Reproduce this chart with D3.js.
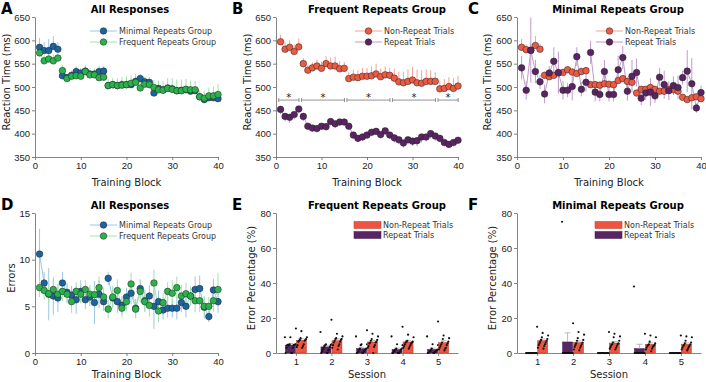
<!DOCTYPE html>
<html>
<head>
<meta charset="utf-8">
<script src="https://cdn.jsdelivr.net/npm/d3@7"></script>
<style>
  body { margin: 0; background: #fff; }
  svg { display: block; font-family: "DejaVu Sans", Verdana, sans-serif; }
</style>
</head>
<body>
<div id="svganchor"></div>
<script>
// ---------- data ----------
const blocks = d3.range(1, 41);
const sessions = [[1, 5], [6, 15], [16, 25], [26, 35], [36, 40]];
const sessionLabels = ["1", "2", "3", "4", "5"];
const rtTicks = [350, 400, 450, 500, 550, 600, 650];
const errTicks = [0, 5, 10, 15];
const pctTicks = [0, 20, 40, 60, 80];
const blockTicks = [0, 10, 20, 30, 40];

// A: all responses, reaction time (ms)
const aMinimal = [585, 578, 578, 587, 581, 524, 520, 525, 533, 530, 534, 528, 528, 533, 534, 503, 505, 503, 505, 505, 505, 512, 518, 511, 510, 487, 497, 494, 498, 496, 492, 493, 494, 491, 492, 479, 473, 477, 477, 475];
const aMinimalErr = [20, 18, 25, 22, 15, 10, 8, 10, 12, 10, 10, 8, 10, 12, 10, 8, 8, 10, 10, 10, 10, 12, 10, 10, 10, 12, 10, 10, 12, 10, 10, 10, 10, 10, 10, 10, 8, 8, 10, 10];
const aFrequent = [573, 556, 560, 556, 562, 535, 518, 523, 524, 523, 533, 526, 526, 520, 521, 503, 505, 503, 504, 505, 508, 510, 498, 506, 505, 499, 494, 493, 497, 495, 492, 492, 495, 494, 494, 479, 476, 481, 481, 484];
const aFrequentErr = [12, 12, 12, 14, 12, 12, 10, 10, 12, 12, 14, 14, 14, 16, 14, 14, 14, 16, 18, 18, 18, 18, 16, 16, 16, 16, 20, 20, 22, 24, 24, 24, 22, 20, 18, 14, 16, 18, 20, 22];

// B: frequent repeats group
const bNonRepeat = [597, 581, 585, 576, 586, 550, 536, 541, 545, 540, 550, 545, 545, 539, 540, 518, 521, 520, 523, 523, 524, 528, 522, 526, 525, 519, 511, 509, 512, 515, 509, 508, 512, 512, 512, 496, 497, 501, 497, 502];
const bNonRepeatErr = [15, 15, 15, 15, 18, 12, 12, 12, 14, 14, 16, 18, 20, 16, 14, 14, 16, 16, 18, 18, 20, 22, 18, 18, 16, 20, 22, 24, 26, 28, 28, 28, 26, 24, 20, 18, 20, 20, 22, 22];
const bRepeat = [452, 437, 435, 441, 453, 437, 416, 412, 411, 416, 415, 426, 421, 425, 425, 416, 397, 390, 393, 397, 403, 405, 398, 406, 397, 391, 387, 380, 387, 384, 385, 393, 393, 400, 395, 390, 381, 377, 381, 386];
const bRepeatErr = [10, 10, 12, 10, 10, 10, 8, 8, 8, 8, 8, 8, 8, 8, 8, 8, 8, 8, 8, 8, 8, 8, 8, 8, 8, 10, 10, 10, 10, 10, 12, 12, 10, 10, 10, 8, 8, 8, 8, 8];

// C: minimal repeats group
const cNonRepeat = [585, 580, 578, 589, 581, 525, 522, 525, 530, 531, 537, 532, 529, 533, 535, 505, 505, 504, 507, 506, 505, 514, 518, 512, 510, 487, 495, 495, 499, 495, 491, 491, 495, 494, 491, 478, 473, 477, 479, 475];
const cNonRepeatErr = [18, 12, 15, 20, 12, 8, 8, 8, 8, 8, 8, 8, 8, 8, 8, 6, 6, 6, 6, 6, 6, 6, 6, 6, 6, 6, 6, 6, 6, 6, 6, 6, 6, 6, 6, 6, 6, 6, 6, 6];
const cRepeat = [541, 493, 579, 533, 511, 485, 530, 555, 531, 493, 493, 501, 565, 495, 510, 574, 489, 484, 533, 484, 484, 537, 563, 491, 523, 531, 476, 487, 489, 481, 521, 505, 492, 503, 499, 520, 534, 507, 455, 488];
const cRepeatErr = [25, 20, 70, 25, 15, 20, 15, 30, 45, 20, 15, 30, 20, 15, 20, 25, 20, 15, 25, 15, 15, 30, 25, 20, 35, 30, 15, 15, 30, 15, 20, 30, 20, 20, 25, 15, 45, 55, 10, 15];

// D: all responses, errors
const dMinimal = [10.6, 7.5, 6.3, 6.1, 5.9, 7.5, 6.5, 6.2, 5.7, 6.6, 5.7, 6.0, 5.4, 6.3, 5.5, 8.0, 5.9, 5.5, 5.1, 6.0, 6.4, 4.8, 6.9, 5.6, 6.1, 5.0, 5.5, 4.6, 4.8, 4.8, 4.8, 5.4, 5.0, 6.1, 6.8, 6.9, 4.9, 3.9, 6.75, 5.5];
const dMinimalErr = [2.7, 1.2, 2.8, 2.0, 1.5, 1.2, 1.0, 1.0, 1.5, 1.2, 1.0, 1.0, 2.3, 1.5, 1.0, 0.7, 1.0, 1.2, 1.0, 1.0, 1.2, 1.0, 1.0, 1.2, 1.2, 2.4, 1.2, 1.0, 1.0, 1.0, 1.2, 1.0, 1.2, 1.0, 1.4, 1.4, 1.2, 0.6, 1.2, 1.2];
const dFrequent = [7.0, 6.7, 6.35, 6.8, 6.3, 6.6, 6.3, 5.5, 6.6, 6.3, 6.8, 6.3, 6.25, 7.0, 6.0, 4.7, 6.0, 6.7, 4.8, 5.5, 7.4, 4.7, 6.6, 5.5, 5.1, 7.5, 4.5, 5.4, 6.6, 6.4, 7.0, 6.1, 6.35, 6.1, 5.6, 5.6, 5.0, 5.0, 5.6, 6.8];
const dFrequentErr = [1.0, 1.0, 1.0, 1.0, 1.0, 1.0, 1.0, 1.2, 1.0, 1.0, 1.0, 1.0, 1.0, 1.2, 1.0, 1.0, 1.2, 1.2, 1.0, 1.0, 1.2, 1.0, 1.2, 1.0, 1.2, 1.4, 1.2, 1.0, 1.0, 1.4, 1.2, 1.2, 1.2, 1.0, 1.2, 1.2, 1.0, 1.0, 1.2, 1.8];

// E: frequent repeats group, error percentage per session
const eRepeat = [4.5, 3.5, 2.5, 2.0, 2.0];
const eRepeatErr = [0.9, 0.9, 0.8, 0.8, 0.8];
const eNonRepeat = [7.2, 7.0, 6.3, 6.3, 5.9];
const eNonRepeatErr = [0.9, 1.1, 0.9, 0.9, 1.1];
const eRepeatDots = [
  [9, 9, 5, 5, 5, 4.5, 4.5, 4.5, 4.5, 4.5, 3, 3, 0, 0, 0],
  [12, 5, 5, 4.5, 4.5, 4, 3.5, 3, 2, 2, 1.5, 1, 0, 0, 0],
  [9.5, 5, 5, 4.5, 2.5, 2.5, 2, 2, 1.5, 1, 1, 0, 0, 0, 0],
  [9.5, 5, 4.5, 2.5, 2.5, 2, 2, 1.5, 1, 1, 0, 0, 0, 0, 0],
  [9.5, 5, 4.5, 2.5, 2, 2, 1.5, 1, 1, 1, 0.5, 0, 0, 0, 0]
];
const eNonRepeatDots = [
  [14, 12.5, 9, 8.5, 8, 7.5, 7.5, 7, 7, 6.5, 5, 4.5, 4, 3.5, 3],
  [19, 11, 9.5, 8.5, 8, 8, 7.5, 7, 6.5, 6, 5, 4.5, 4, 3, 2],
  [13, 11, 9.5, 8, 7.5, 7, 6.5, 6, 6, 5.5, 4.5, 4, 3.5, 3, 0],
  [15, 10.5, 9, 7, 6.5, 6.5, 6, 6, 5.5, 5, 4.5, 4, 3.5, 3, 2.5],
  [18, 10, 8.5, 8, 6.5, 6, 5.5, 5, 4.5, 4, 3, 3, 2.5, 2, 1.5]
];

// F: minimal repeats group, error percentage per session
const fRepeat = [0, 6.3, 0, 2.5, 0];
const fRepeatErr = [0, 5.2, 0, 2.5, 0];
const fNonRepeat = [7.0, 6.0, 5.7, 5.0, 5.0];
const fNonRepeatErr = [1.0, 1.0, 0.9, 0.8, 0.8];
const fRepeatDots = [
  [0, 0, 0, 0, 0, 0, 0, 0, 0, 0, 0, 0, 0, 0, 0],
  [75, 0, 0, 0, 0, 0, 0, 0, 0, 0, 0, 0, 0, 0, 0],
  [0, 0, 0, 0, 0, 0, 0, 0, 0, 0, 0, 0, 0, 0, 0],
  [38, 0, 0, 0, 0, 0, 0, 0, 0, 0, 0, 0, 0, 0, 0],
  [0, 0, 0, 0, 0, 0, 0, 0, 0, 0, 0, 0, 0, 0, 0]
];
const fNonRepeatDots = [
  [15, 11.5, 10, 9, 8, 7.5, 7, 6.5, 6, 5.5, 5, 4.5, 4, 3, 2.5],
  [17, 12, 10.5, 8.5, 7.5, 7, 6, 5.5, 5, 4.5, 4, 3.5, 3, 2, 1.5],
  [12, 11, 9.5, 9, 7, 6, 5.5, 5, 5, 4.5, 4, 3.5, 3, 2.5, 2],
  [11, 10, 9, 6.5, 5.5, 5, 4.5, 4.5, 4, 4, 3.5, 3, 2.5, 2, 1],
  [10, 9.5, 9, 7, 6, 5.5, 5, 4.5, 4, 4, 3.5, 3, 2.5, 2, 1.5]
];

// ---------- styles ----------
const col = {
  blue: "#1c64a0", blueLight: "#9cc6e6",
  green: "#2bb34b", greenLight: "#a4e2ad",
  red: "#ec5a42", redLight: "#f4a396",
  purple: "#5a2463", purpleLight: "#bf9bca"
};

const svg = d3.select("#svganchor")
  .append("svg")
  .attr("width", 706)
  .attr("height", 382);

/*
------------------------------
METHOD: shared frame bits (axes, titles, letters)
------------------------------
*/
function frame(p, x, y, xAxis, yTicks) {
  const g = svg.append("g");
  g.append("g")
    .attr("transform", "translate(0," + p.y1 + ")")
    .call(xAxis.tickSize(3).tickSizeOuter(0).tickPadding(2));
  g.append("g")
    .attr("transform", "translate(" + p.x0 + ",0)")
    .call(d3.axisLeft(y).tickValues(yTicks).tickSize(3).tickSizeOuter(0).tickPadding(2));
  g.selectAll(".domain, .tick line").attr("stroke", "#666").attr("stroke-width", 0.8);
  g.selectAll(".tick text").attr("fill", "#222").style("font-size", "9.5px");

  svg.append("text")
    .attr("x", p.letterX).attr("y", p.y0 - 3)
    .style("font-size", "15px").style("font-weight", "bold")
    .text(p.letter);
  svg.append("text")
    .attr("x", p.titleX).attr("y", p.y0 - 4)
    .attr("text-anchor", "middle")
    .style("font-size", "10px").style("font-weight", "bold")
    .text(p.title);
  svg.append("text")
    .attr("x", (p.x0 + p.x1) / 2).attr("y", p.y1 + p.xLabelDy)
    .attr("text-anchor", "middle")
    .style("font-size", "10px").attr("fill", "#222")
    .text(p.xLabel);
  svg.append("text")
    .attr("transform", "translate(" + p.yLabelX + "," + ((p.y0 + p.y1) / 2 - 5) + ") rotate(-90)")
    .attr("text-anchor", "middle")
    .style("font-size", "10px").attr("fill", "#222")
    .text(p.yLabel);
  return g;
}

/*
------------------------------
METHOD: panels with 40 training blocks
------------------------------
*/
function linePanel(p) {
  const x = d3.scaleLinear().domain([0, 40]).range([p.x0, p.x1]);
  const y = d3.scaleLinear().domain(p.yDomain).range([p.y1, p.y0]);
  frame(p, x, y, d3.axisBottom(x).tickValues(blockTicks), p.yTicks);

  const line = d3.line()
    .x(function (d) { return x(d.b); })
    .y(function (d) { return y(d.v); });

  p.series.forEach(function (s) {
    const pts = blocks.map(function (b, i) { return { b: b, v: s.values[i], e: s.err[i] }; });
    svg.append("g").selectAll("line")
      .data(pts).enter().append("line")
      .attr("x1", function (d) { return x(d.b); })
      .attr("x2", function (d) { return x(d.b); })
      .attr("y1", function (d) { return y(s.dir === "up" ? d.v : d.v - d.e); })
      .attr("y2", function (d) { return y(s.dir === "down" ? d.v : d.v + d.e); })
      .attr("stroke", s.light).attr("stroke-width", 1);
    sessions.forEach(function (r) {
      svg.append("path")
        .attr("d", line(pts.filter(function (d) { return d.b >= r[0] && d.b <= r[1]; })))
        .attr("fill", "none").attr("stroke", s.light).attr("stroke-width", 1);
    });
  });
  p.series.forEach(function (s) {
    svg.append("g").selectAll("circle")
      .data(s.values).enter().append("circle")
      .attr("cx", function (d, i) { return x(blocks[i]); })
      .attr("cy", function (d) { return y(d); })
      .attr("r", 3.3)
      .attr("fill", s.color).attr("stroke", "#222").attr("stroke-width", 0.5);
  });

  // legend
  p.series.forEach(function (s, i) {
    const ly = p.legendY + i * 11;
    svg.append("line")
      .attr("x1", p.legendX).attr("x2", p.legendX + 27)
      .attr("y1", ly).attr("y2", ly)
      .attr("stroke", s.light).attr("stroke-width", 1);
    svg.append("circle")
      .attr("cx", p.legendX + 13.5).attr("cy", ly).attr("r", 3.3)
      .attr("fill", s.color).attr("stroke", "#222").attr("stroke-width", 0.5);
    svg.append("text")
      .attr("x", p.legendX + 29).attr("y", ly + 3)
      .style("font-size", "8px").attr("fill", "#333")
      .text(s.name);
  });

  // significance brackets between the two trial types
  if (p.brackets) {
    const by = y(p.brackets);
    sessions.forEach(function (r) {
      const xa = x(r[0] - 0.4), xb = x(r[1] + 0.05);
      svg.append("path")
        .attr("d", "M" + xa + "," + (by - 2) + "V" + (by + 2) + "M" + xa + "," + by + "H" + xb + "M" + xb + "," + (by - 2) + "V" + (by + 2))
        .attr("fill", "none").attr("stroke", "#777").attr("stroke-width", 0.8);
      svg.append("text")
        .attr("x", (xa + xb) / 2).attr("y", by + 1)
        .attr("text-anchor", "middle")
        .style("font-size", "10px").attr("fill", "#222")
        .text("*");
    });
  }
}

/*
------------------------------
METHOD: error percentage bar panels
------------------------------
*/
function barPanel(p) {
  const x = d3.scalePoint().domain(sessionLabels).range([p.x0, p.x1]).padding(0.56);
  const y = d3.scaleLinear().domain([0, 80]).range([p.y1, p.y0]);
  frame(p, x, y, d3.axisBottom(x), pctTicks);

  const bw = 10;
  p.series.forEach(function (s) {
    const g = svg.append("g");
    sessionLabels.forEach(function (lab, i) {
      const cx = x(lab) + s.offset;
      g.append("rect")
        .attr("x", cx - bw / 2).attr("y", y(s.values[i]))
        .attr("width", bw).attr("height", Math.max(y(0) - y(s.values[i]), 0.8))
        .attr("fill", s.color).attr("stroke", s.edge).attr("stroke-width", 0.5);
      g.append("path")
        .attr("d", "M" + cx + "," + y(s.values[i]) + "V" + y(s.values[i] + s.err[i]) +
          "M" + (cx - 3) + "," + y(s.values[i] + s.err[i]) + "H" + (cx + 3))
        .attr("stroke", "#aaa").attr("stroke-width", 0.8).attr("fill", "none");
      g.selectAll(".dot" + i)
        .data(s.dots[i]).enter().append("circle")
        .attr("cx", function (d, j) { return cx + (((j * 7) % 15) / 14 - 0.5) * 11; })
        .attr("cy", function (d) { return y(d); })
        .attr("r", 1.1).attr("fill", "#111");
    });
  });

  p.series.slice().reverse().forEach(function (s, i) {
    const ly = p.legendY + i * 10;
    svg.append("rect")
      .attr("x", p.legendX).attr("y", ly - 3.5)
      .attr("width", 27).attr("height", 7)
      .attr("fill", s.color).attr("stroke", s.edge).attr("stroke-width", 0.5);
    svg.append("text")
      .attr("x", p.legendX + 29).attr("y", ly + 3)
      .style("font-size", "8px").attr("fill", "#333")
      .text(s.name);
  });
}

// ---------- top row ----------
const topRow = { y0: 17, y1: 157, yDomain: [350, 650], yTicks: rtTicks, xLabel: "Training Block", xLabelDy: 29, yLabel: "Reaction Time (ms)", legendY: 31 };

linePanel(Object.assign({}, topRow, {
  x0: 35, x1: 218, letter: "A", letterX: 1, title: "All Responses", titleX: 130, yLabelX: 10,
  legendX: 90,
  series: [
    { name: "Minimal Repeats Group", values: aMinimal, err: aMinimalErr, dir: "up", color: col.blue, light: col.blueLight },
    { name: "Frequent Repeats Group", values: aFrequent, err: aFrequentErr, dir: "up", color: col.green, light: col.greenLight }
  ]
}));

linePanel(Object.assign({}, topRow, {
  x0: 276, x1: 458, letter: "B", letterX: 232, title: "Frequent Repeats Group", titleX: 377, yLabelX: 251,
  legendX: 355, brackets: 472,
  series: [
    { name: "Non-Repeat Trials", values: bNonRepeat, err: bNonRepeatErr, dir: "up", color: col.red, light: col.redLight },
    { name: "Repeat Trials", values: bRepeat, err: bRepeatErr, dir: "down", color: col.purple, light: col.purpleLight }
  ]
}));

linePanel(Object.assign({}, topRow, {
  x0: 517, x1: 701, letter: "C", letterX: 468, title: "Minimal Repeats Group", titleX: 618, yLabelX: 491,
  legendX: 596,
  series: [
    { name: "Non-Repeat Trials", values: cNonRepeat, err: cNonRepeatErr, dir: "up", color: col.red, light: col.redLight },
    { name: "Repeat Trials", values: cRepeat, err: cRepeatErr, dir: "both", color: col.purple, light: col.purpleLight }
  ]
}));

// ---------- bottom row ----------
linePanel({
  x0: 35, x1: 218, y0: 213, y1: 353, yDomain: [0, 15], yTicks: errTicks,
  letter: "D", letterX: 1, title: "All Responses", titleX: 130, xLabel: "Training Block", xLabelDy: 25, yLabel: "Errors", yLabelX: 15,
  legendX: 90, legendY: 225,
  series: [
    { name: "Minimal Repeats Group", values: dMinimal, err: dMinimalErr, dir: "both", color: col.blue, light: col.blueLight },
    { name: "Frequent Repeats Group", values: dFrequent, err: dFrequentErr, dir: "both", color: col.green, light: col.greenLight }
  ]
});

barPanel({
  x0: 276, x1: 458, y0: 213, y1: 353,
  letter: "E", letterX: 232, title: "Frequent Repeats Group", titleX: 377, xLabel: "Session", xLabelDy: 25, yLabel: "Error Percentage (%)", yLabelX: 255,
  legendX: 354, legendY: 225,
  series: [
    { name: "Repeat Trials", values: eRepeat, err: eRepeatErr, dots: eRepeatDots, offset: -5.5, color: col.purple, edge: "#3d1544" },
    { name: "Non-Repeat Trials", values: eNonRepeat, err: eNonRepeatErr, dots: eNonRepeatDots, offset: 5.5, color: "#ef5440", edge: "#b53a2a" }
  ]
});

barPanel({
  x0: 517, x1: 701, y0: 213, y1: 353,
  letter: "F", letterX: 468, title: "Minimal Repeats Group", titleX: 618, xLabel: "Session", xLabelDy: 25, yLabel: "Error Percentage (%)", yLabelX: 496,
  legendX: 595, legendY: 225,
  series: [
    { name: "Repeat Trials", values: fRepeat, err: fRepeatErr, dots: fRepeatDots, offset: -5.5, color: col.purple, edge: "#3d1544" },
    { name: "Non-Repeat Trials", values: fNonRepeat, err: fNonRepeatErr, dots: fNonRepeatDots, offset: 5.5, color: "#ef5440", edge: "#b53a2a" }
  ]
});
</script>
</body>
</html>
